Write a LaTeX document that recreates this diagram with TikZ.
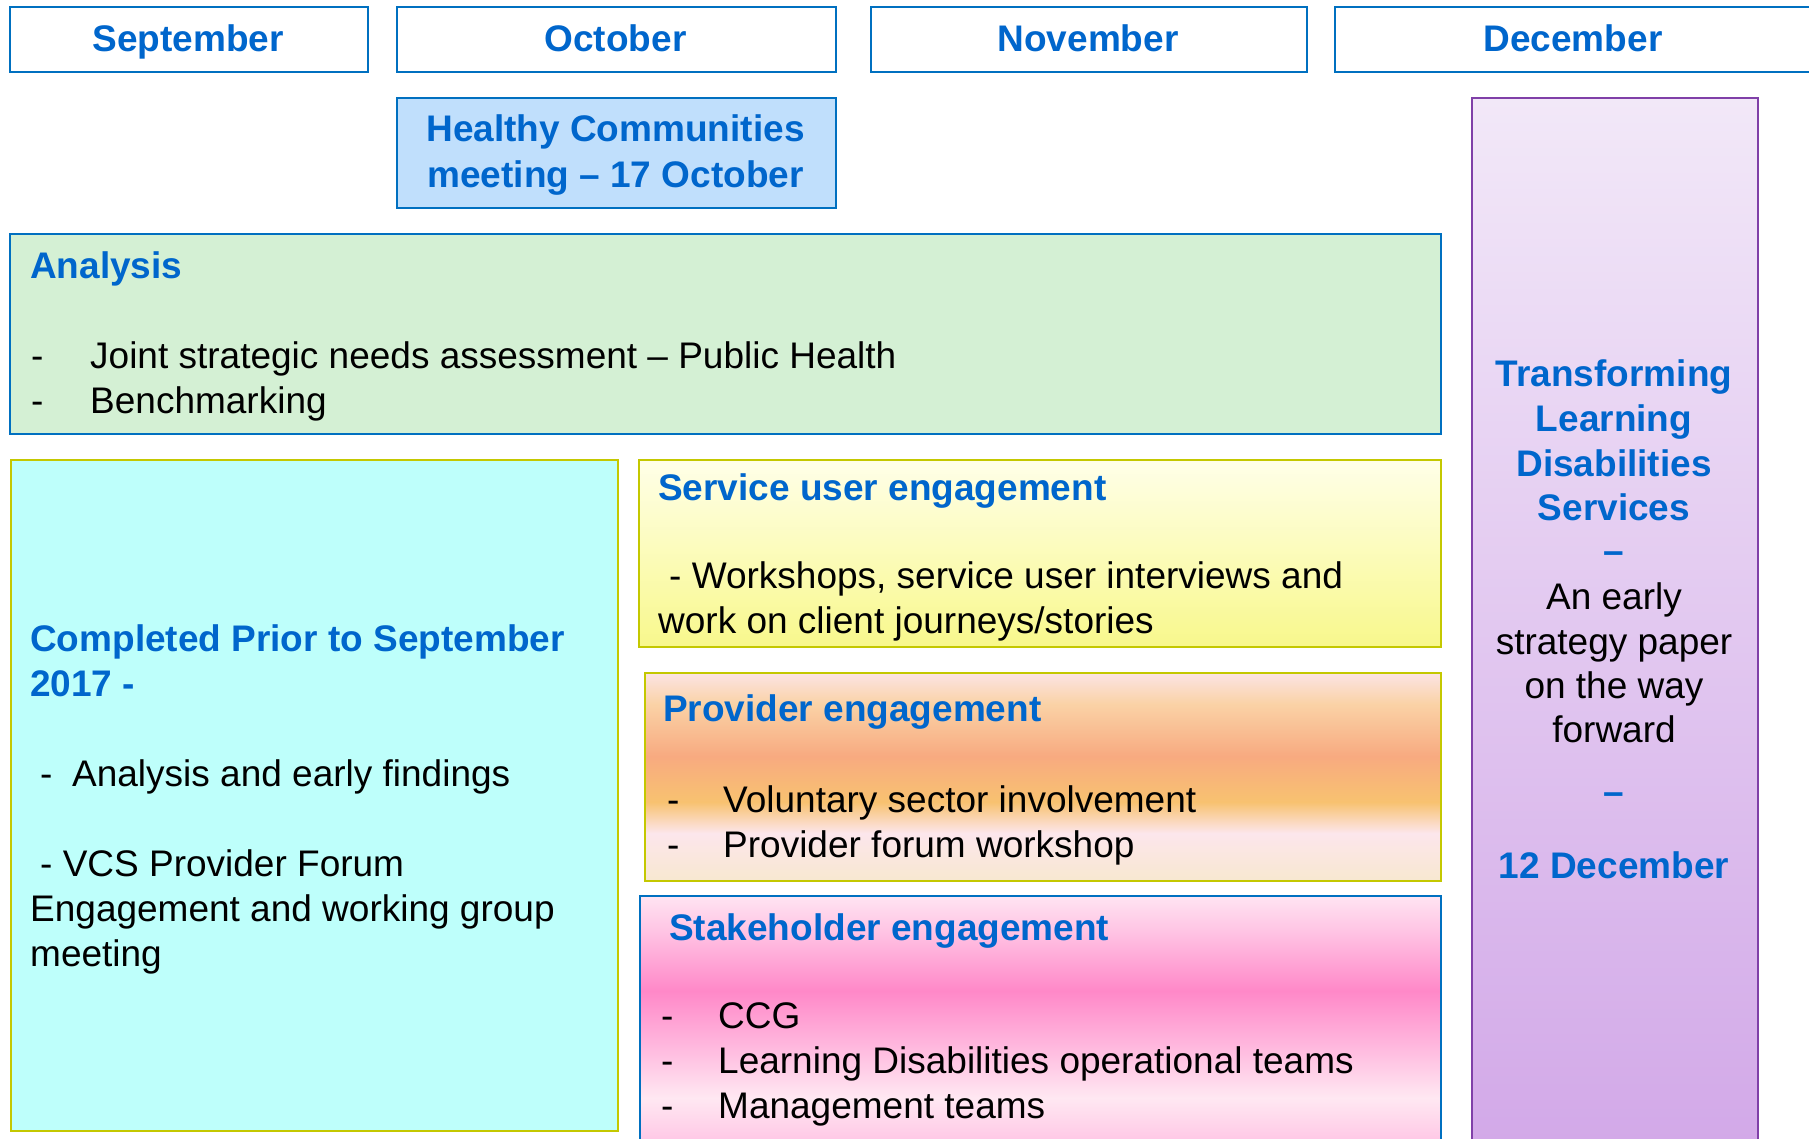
\documentclass[tikz,border=0pt]{standalone}
\usepackage{fontspec}
\setmainfont{Liberation Sans}

% palette
\definecolor{titleblue}{RGB}{0,102,204}
\definecolor{edgeblue}{RGB}{0,112,192}
\definecolor{edgeolive}{RGB}{196,200,0}
\definecolor{edgepurple}{RGB}{128,64,168}
\definecolor{meetfill}{RGB}{192,223,252}
\definecolor{anafill}{RGB}{212,240,212}
\definecolor{priorfill}{RGB}{190,255,251}
\definecolor{svcTop}{RGB}{255,255,232}
\definecolor{svcBot}{RGB}{248,248,140}
\definecolor{pvA}{RGB}{252,228,228}
\definecolor{pvB}{RGB}{250,210,166}
\definecolor{pvC}{RGB}{248,170,128}
\definecolor{pvD}{RGB}{248,194,112}
\definecolor{pvE}{RGB}{252,230,236}
\definecolor{pvF}{RGB}{248,232,208}
\definecolor{skA}{RGB}{255,228,242}
\definecolor{skB}{RGB}{255,196,228}
\definecolor{skC}{RGB}{255,136,200}
\definecolor{skD}{RGB}{255,184,222}
\definecolor{skE}{RGB}{255,232,242}
\definecolor{skF}{RGB}{255,200,230}
\definecolor{puTop}{RGB}{242,232,248}
\definecolor{puBot}{RGB}{210,168,232}

% vertical gradients (path spans 25bp..75bp, bottom to top)
\pgfdeclareverticalshading{provshade}{100bp}{color(0bp)=(pvF); color(25bp)=(pvF);
  color(36.5bp)=(pvE); color(44bp)=(pvD); color(55bp)=(pvC); color(67.5bp)=(pvB);
  color(75bp)=(pvA); color(100bp)=(pvA)}
\pgfdeclareverticalshading{stakeshade}{100bp}{color(0bp)=(skF); color(28.1bp)=(skF);
  color(36.15bp)=(skE); color(46.15bp)=(skD); color(56.75bp)=(skC); color(68.25bp)=(skB);
  color(75bp)=(skA); color(100bp)=(skA)}

\newcommand\bigtext{\fontsize{37}{45}\selectfont}

\tikzset{
  panel/.style={inner sep=0pt, anchor=north west, line width=2pt},
  monthbox/.style={panel, draw=edgeblue, fill=white, minimum height=65pt},
  head/.style={font=\bigtext\bfseries, text=titleblue, inner sep=0pt, anchor=base},
  headL/.style={head, anchor=base west},
  body/.style={font=\bigtext, text=black, inner sep=0pt, anchor=base west},
  bodyC/.style={body, anchor=base},
}

\begin{document}
\begin{tikzpicture}[x=1pt, y=-1pt]
\useasboundingbox (0,0) rectangle (1809,1139);
\fill[white] (0,0) rectangle (1809,1139);
\clip (0,0) rectangle (1809,1139);

% month header row
\node[monthbox, minimum width=358pt] (sepbox) at (9,6) {};
\node[monthbox, minimum width=439pt] (octbox) at (396,6) {};
\node[monthbox, minimum width=436pt] (novbox) at (870,6) {};
\node[monthbox, minimum width=478pt] (decbox) at (1334,6) {};
\node[head] (sep) at (188,52) {September};
\node[head] (oct) at (615.5,52) {October};
\node[head] (nov) at (1088,52) {November};
\node[head] (dec) at (1573,52) {December};

% meeting
\node[panel, draw=edgeblue, fill=meetfill, minimum width=439pt, minimum height=110pt] (meetbox) at (396,97) {};
\node[head] (meet1) at (615.5,142) {Healthy Communities};
\node[head] (meet2) at (615.5,188) {meeting -- 17 October};

% analysis
\node[panel, draw=edgeblue, fill=anafill, minimum width=1431pt, minimum height=200pt] (anabox) at (9,233) {};
\node[headL] (anatitle) at (30,279) {Analysis};
\node[body] (ana1) at (31,368) {\makebox[59pt][l]{-}Joint strategic needs assessment -- Public Health};
\node[body] (ana2) at (31,413) {\makebox[59pt][l]{-}Benchmarking};

% completed prior
\node[panel, draw=edgeolive, fill=priorfill, minimum width=607pt, minimum height=671pt] (priorbox) at (10,459) {};
\node[headL] (prior1) at (30,651) {Completed Prior to September};
\node[headL] (prior2) at (30,696) {2017 -};
\node[body] (prior3) at (40,786) {\makebox[32pt][l]{-}Analysis and early findings};
\node[body] (prior4) at (40,876) {- VCS Provider Forum};
\node[body] (prior5) at (30,921) {Engagement and working group};
\node[body] (prior6) at (30,966) {meeting};

% service user engagement
\node[panel, draw=edgeolive, top color=svcTop, bottom color=svcBot, minimum width=802pt, minimum height=187pt] (svcbox) at (638,459) {};
\node[headL] (svctitle) at (658,500) {Service user engagement};
\node[body] (svc1) at (669,588) {- Workshops, service user interviews and};
\node[body] (svc2) at (658,633) {work on client journeys/stories};

% provider engagement
\node[panel, draw=edgeolive, shading=provshade, minimum width=796pt, minimum height=208pt] (provbox) at (644,672) {};
\node[headL] (provtitle) at (663,721) {Provider engagement};
\node[body] (prov1) at (667,812) {\makebox[56pt][l]{-}Voluntary sector involvement};
\node[body] (prov2) at (667,857) {\makebox[56pt][l]{-}Provider forum workshop};

% stakeholder engagement
\node[panel, draw=edgeblue, shading=stakeshade, minimum width=801pt, minimum height=260pt] (stakebox) at (639,895) {};
\node[headL] (staketitle) at (669,940) {Stakeholder engagement};
\node[body] (stake1) at (661,1028) {\makebox[57pt][l]{-}CCG};
\node[body] (stake2) at (661,1073) {\makebox[57pt][l]{-}Learning Disabilities operational teams};
\node[body] (stake3) at (661,1118) {\makebox[57pt][l]{-}Management teams};

% December outcome
\node[panel, draw=edgepurple, top color=puTop, bottom color=puBot, minimum width=286pt, minimum height=1060pt] (outbox) at (1471,97) {};
\node[head] (out1) at (1614,386) {Transforming};
\node[head] (out2) at (1614,431) {Learning};
\node[head] (out3) at (1614,476) {Disabilities};
\node[head] (out4) at (1614,520) {Services};
\node[head] (out5) at (1614,563) {--};
\node[bodyC] (out6) at (1614,609) {An early};
\node[bodyC] (out7) at (1614,654) {strategy paper};
\node[bodyC] (out8) at (1614,698) {on the way};
\node[bodyC] (out9) at (1614,742) {forward};
\node[head] (out10) at (1614,804) {--};
\node[head] (out11) at (1614,878) {12 December};
\end{tikzpicture}
\end{document}
